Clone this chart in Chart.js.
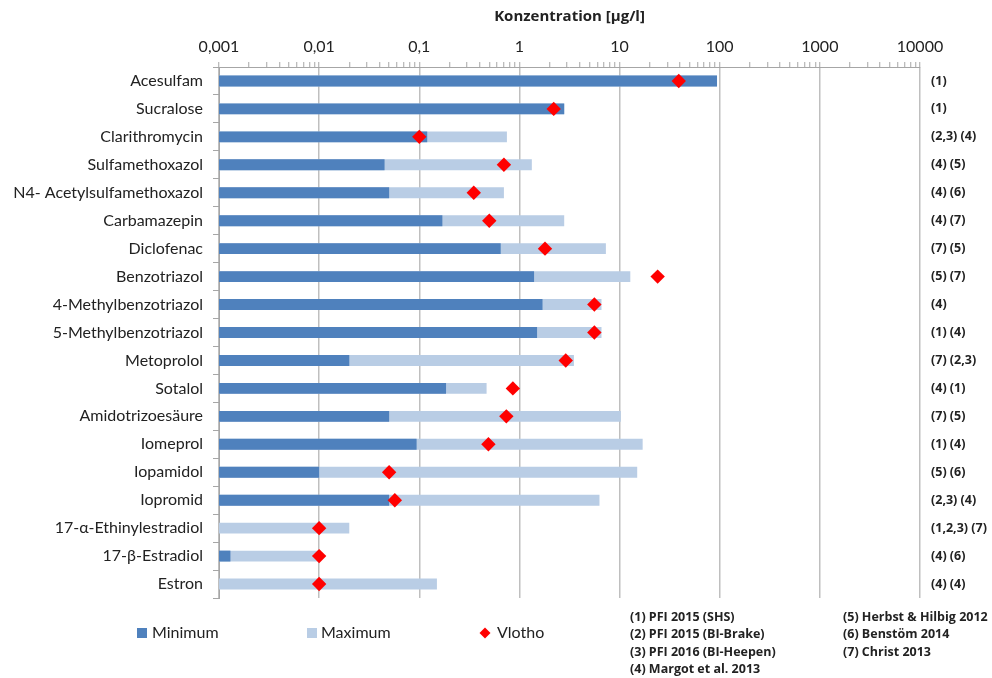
<!DOCTYPE html>
<html>
<head>
<meta charset="utf-8">
<script src="https://cdn.jsdelivr.net/npm/chart.js@4.4.1/dist/chart.umd.min.js"></script>
<style>
  html, body { margin: 0; padding: 0; background: #ffffff; }
  #wrap { width: 992px; height: 678px; position: relative; }
</style>
</head>
<body>
<div id="wrap"><canvas id="chart" width="992" height="678"></canvas></div>
<script>
// Substances (top to bottom)
const substances = [
  'Acesulfam', 'Sucralose', 'Clarithromycin', 'Sulfamethoxazol',
  'N4- Acetylsulfamethoxazol', 'Carbamazepin', 'Diclofenac', 'Benzotriazol',
  '4-Methylbenzotriazol', '5-Methylbenzotriazol', 'Metoprolol', 'Sotalol',
  'Amidotrizoesäure', 'Iomeprol', 'Iopamidol', 'Iopromid',
  '17-α-Ethinylestradiol', '17-β-Estradiol', 'Estron'
];

// Concentrations in µg/l
const minimum = [94, 2.8, 0.12, 0.045, 0.05, 0.17, 0.65, 1.4, 1.7, 1.5, 0.02, 0.185, 0.05, 0.094, 0.01, 0.05, null, 0.0013, null];
const maximum = [94, 2.8, 0.75, 1.33, 0.7, 2.8, 7.3, 12.8, 6.6, 6.6, 3.5, 0.47, 10.3, 17, 15, 6.3, 0.02, 0.01, 0.15];
const vlotho  = [39, 2.2, 0.1, 0.7, 0.35, 0.5, 1.8, 24, 5.6, 5.6, 2.9, 0.86, 0.74, 0.49, 0.05, 0.057, 0.01, 0.01, 0.01];

// Literature sources per substance
const sources = [
  '(1)', '(1)', '(2,3) (4)', '(4) (5)', '(4) (6)', '(4) (7)', '(7) (5)', '(5) (7)',
  '(4)', '(1) (4)', '(7) (2,3)', '(4) (1)', '(7) (5)', '(1) (4)', '(5) (6)',
  '(2,3) (4)', '(1,2,3) (7)', '(4) (6)', '(4) (4)'
];

// Axis decades and their labels
const decadeTicks  = [0.001, 0.01, 0.1, 1, 10, 100, 1000, 10000];
const decadeLabels = ['0,001', '0,01', '0,1', '1', '10', '100', '1000', '10000'];

// Reference list
const referencesLeft  = ['(1) PFI 2015 (SHS)', '(2) PFI 2015 (BI-Brake)', '(3) PFI 2016 (BI-Heepen)', '(4) Margot et al. 2013'];
const referencesRight = ['(5) Herbst & Hilbig 2012', '(6) Benstöm 2014', '(7) Christ 2013'];

const FONT = 'Lato, "Open Sans", sans-serif';
const BOLD_FONT = '"Open Sans", Lato, sans-serif';
const TEXT = '#222222';
const DARK = '#4F81BD';
const LIGHT = '#B9CDE5';
const RED = '#FF0000';

// Legend + reference list drawn under the plot
const footerPlugin = {
  id: 'footer',
  afterDraw(chart) {
    const ctx = chart.ctx;
    const ds = chart.data.datasets;
    ctx.save();
    ctx.textBaseline = 'middle';
    ctx.textAlign = 'left';
    ctx.font = '16px ' + FONT;
    const ly = 633;
    // Minimum
    ctx.fillStyle = ds[0].backgroundColor;
    ctx.fillRect(137, ly - 5, 10, 10);
    ctx.fillStyle = TEXT;
    ctx.fillText(ds[0].label, 152, ly);
    // Maximum
    ctx.fillStyle = ds[1].backgroundColor;
    ctx.fillRect(307, ly - 5, 10, 10);
    ctx.fillStyle = TEXT;
    ctx.fillText(ds[1].label, 321, ly);
    // Vlotho
    ctx.fillStyle = ds[2].pointBackgroundColor;
    ctx.beginPath();
    ctx.moveTo(485, ly - 5.5);
    ctx.lineTo(490.5, ly);
    ctx.lineTo(485, ly + 5.5);
    ctx.lineTo(479.5, ly);
    ctx.closePath();
    ctx.fill();
    ctx.fillStyle = TEXT;
    ctx.fillText(ds[2].label, 497, ly);

    // references
    ctx.font = 'bold 12.5px ' + BOLD_FONT;
    referencesLeft.forEach((t, i) => ctx.fillText(t, 630, 617 + i * 17.6));
    referencesRight.forEach((t, i) => ctx.fillText(t, 843, 617 + i * 17.6));
    ctx.restore();
  }
};

new Chart(document.getElementById('chart'), {
  data: {
    labels: substances,
    datasets: [
      {
        type: 'bar', label: 'Minimum', data: minimum,
        backgroundColor: DARK, grouped: false, order: 1,
        barPercentage: 0.39, categoryPercentage: 1.0,
        xAxisID: 'x', yAxisID: 'y'
      },
      {
        type: 'bar', label: 'Maximum', data: maximum,
        backgroundColor: LIGHT, grouped: false, order: 2,
        barPercentage: 0.39, categoryPercentage: 1.0,
        xAxisID: 'x', yAxisID: 'y'
      },
      {
        type: 'line', label: 'Vlotho', data: vlotho, indexAxis: 'y',
        showLine: false, pointStyle: 'rectRot', pointRadius: 7.2,
        pointBackgroundColor: RED, pointBorderColor: RED, pointBorderWidth: 0,
        backgroundColor: RED, borderColor: RED, order: 0,
        xAxisID: 'x', yAxisID: 'y'
      }
    ]
  },
  options: {
    indexAxis: 'y',
    responsive: false,
    animation: false,
    devicePixelRatio: 1,
    layout: { padding: { left: 0, right: 0, top: 0, bottom: 80 } },
    plugins: {
      legend: { display: false },
      tooltip: { enabled: false }
    },
    scales: {
      x: {
        type: 'logarithmic', position: 'top', min: 0.001, max: 10000,
        afterBuildTicks(scale) {
          const t = [];
          decadeTicks.forEach((d, i) => {
            t.push({ value: d, major: true });
            if (i < decadeTicks.length - 1) {
              for (let m = 2; m <= 9; m++) t.push({ value: d * m, major: false });
            }
          });
          scale.ticks = t;
        },
        afterFit(scale) { scale.height = 67; },
        ticks: {
          autoSkip: false, maxRotation: 0, padding: 6,
          font: { family: FONT, size: 16 }, color: TEXT,
          callback(v) {
            const k = decadeTicks.findIndex(d => Math.abs(d - v) < d * 1e-6);
            return k >= 0 ? decadeLabels[k] : '';
          }
        },
        grid: {
          color: c => (c.tick && c.tick.major) ? '#BFBFBF' : 'rgba(0,0,0,0)',
          lineWidth: 1.5,
          tickColor: '#A6A6A6', tickLength: 5, tickWidth: 1
        },
        border: { display: true, color: '#A6A6A6', width: 1 },
        title: {
          display: true, text: 'Konzentration [µg/l]',
          font: { family: BOLD_FONT, size: 15, weight: 'bold' }, color: TEXT,
          padding: { top: 8, bottom: 2 }
        }
      },
      y: {
        type: 'category', position: 'left', offset: true,
        afterFit(scale) { scale.width = 219; },
        ticks: { font: { family: FONT, size: 16 }, color: TEXT, padding: 10, autoSkip: false },
        grid: { offset: true, drawOnChartArea: false, tickLength: 6, color: '#A6A6A6' },
        border: { display: true, color: '#A6A6A6', width: 1 }
      },
      y2: {
        type: 'category', position: 'right', offset: true, labels: sources,
        afterFit(scale) { scale.width = 72; },
        ticks: { font: { family: BOLD_FONT, size: 12.5, weight: 'bold' }, color: TEXT, padding: 3, autoSkip: false },
        grid: { display: false, offset: true },
        border: { display: false }
      }
    }
  },
  plugins: [footerPlugin]
});
</script>
</body>
</html>
